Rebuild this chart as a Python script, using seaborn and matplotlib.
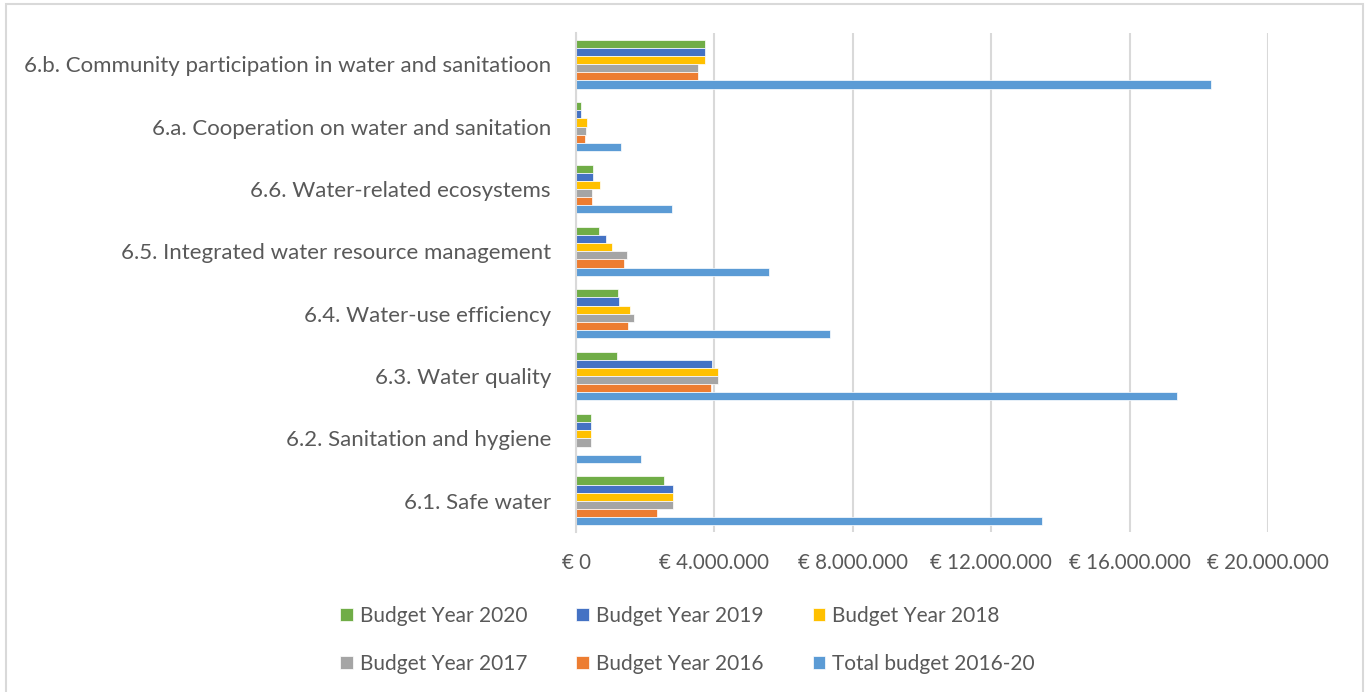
import matplotlib
matplotlib.use("Agg")
import matplotlib.pyplot as plt
import seaborn as sns
import pandas as pd
from matplotlib.patches import Rectangle
from matplotlib.ticker import FuncFormatter

categories = [
    "6.b. Community participation in water and sanitatioon",
    "6.a. Cooperation on water and sanitation",
    "6.6. Water-related ecosystems",
    "6.5. Integrated water resource management",
    "6.4. Water-use efficiency",
    "6.3. Water quality",
    "6.2. Sanitation and hygiene",
    "6.1. Safe water",
]
budget_2020 = [3730000, 140000, 500000, 670000, 1220000, 1180000, 430000, 2540000]
budget_2019 = [3740000, 140000, 500000, 870000, 1230000, 3930000, 440000, 2810000]
budget_2018 = [3720000, 310000, 690000, 1040000, 1570000, 4110000, 430000, 2810000]
budget_2017 = [3520000, 280000, 470000, 1470000, 1690000, 4100000, 430000, 2810000]
budget_2016 = [3520000, 250000, 450000, 1400000, 1490000, 3900000, 0, 2340000]
total_2016_20 = [18350000, 1310000, 2770000, 5570000, 7330000, 17380000, 1880000, 13460000]

series_names = ["Budget Year 2020", "Budget Year 2019", "Budget Year 2018",
                "Budget Year 2017", "Budget Year 2016", "Total budget 2016-20"]
series_values = [budget_2020, budget_2019, budget_2018, budget_2017, budget_2016, total_2016_20]
colors = ["#70AD47", "#4472C4", "#FFC000", "#A5A5A5", "#ED7D31", "#5B9BD5"]
xticks = [0, 4000000, 8000000, 12000000, 16000000, 20000000]

rows = []
for name, vals in zip(series_names, series_values):
    for cat, v in zip(categories, vals):
        rows.append({"category": cat, "series": name, "value": v})
df = pd.DataFrame(rows)

sns.set_theme(style="white")
plt.rcParams['font.family'] = ['Lato', 'DejaVu Sans']
text_color = "#595959"

fig = plt.figure(figsize=(13.67, 6.92), dpi=100)
ax = fig.add_axes([576 / 1367, 1 - 532 / 692, (1268 - 576) / 1367, (532 - 33) / 692])

sns.barplot(data=df, y="category", x="value", hue="series", order=categories,
            hue_order=series_names, palette=colors, saturation=1, orient="h",
            width=0.78, edgecolor="white", linewidth=0.5, ax=ax, legend=True)

ax.set_xlim(0, 20000000)
ax.set_xticks(xticks)
ax.xaxis.set_major_formatter(FuncFormatter(
    lambda v, p: "€ " + f"{int(v):,}".replace(",", ".")))
ax.grid(axis="x", color="#D9D9D9", linewidth=1.5)
ax.set_axisbelow(True)
for s in ["top", "right", "bottom"]:
    ax.spines[s].set_visible(False)
ax.spines["left"].set_color("#D9D9D9")
ax.spines["left"].set_linewidth(1.5)
ax.set_xlabel("")
ax.set_ylabel("")
ax.tick_params(axis="both", length=0, colors=text_color)
ax.tick_params(axis="x", labelsize=14.8, pad=15)
ax.tick_params(axis="y", labelsize=16, pad=18)

handles, labels = ax.get_legend_handles_labels()
ax.get_legend().remove()
order = [0, 3, 1, 4, 2, 5]
fig.legend([handles[i] for i in order], [labels[i] for i in order],
           loc="center", bbox_to_anchor=(0.503, 1 - 640 / 692), ncol=3,
           frameon=False, fontsize=15, labelcolor=text_color,
           handlelength=0.6, handleheight=0.6, handletextpad=0.35,
           columnspacing=2.35, labelspacing=1.35)

fig.patches.append(Rectangle((5.5 / 1367, -0.1), (1363 - 5.5) / 1367, 1.1 - 4.5 / 692,
                             transform=fig.transFigure, fill=False,
                             edgecolor="#D9D9D9", linewidth=1.5, clip_on=False))

fig.savefig("out.png", dpi=100)
